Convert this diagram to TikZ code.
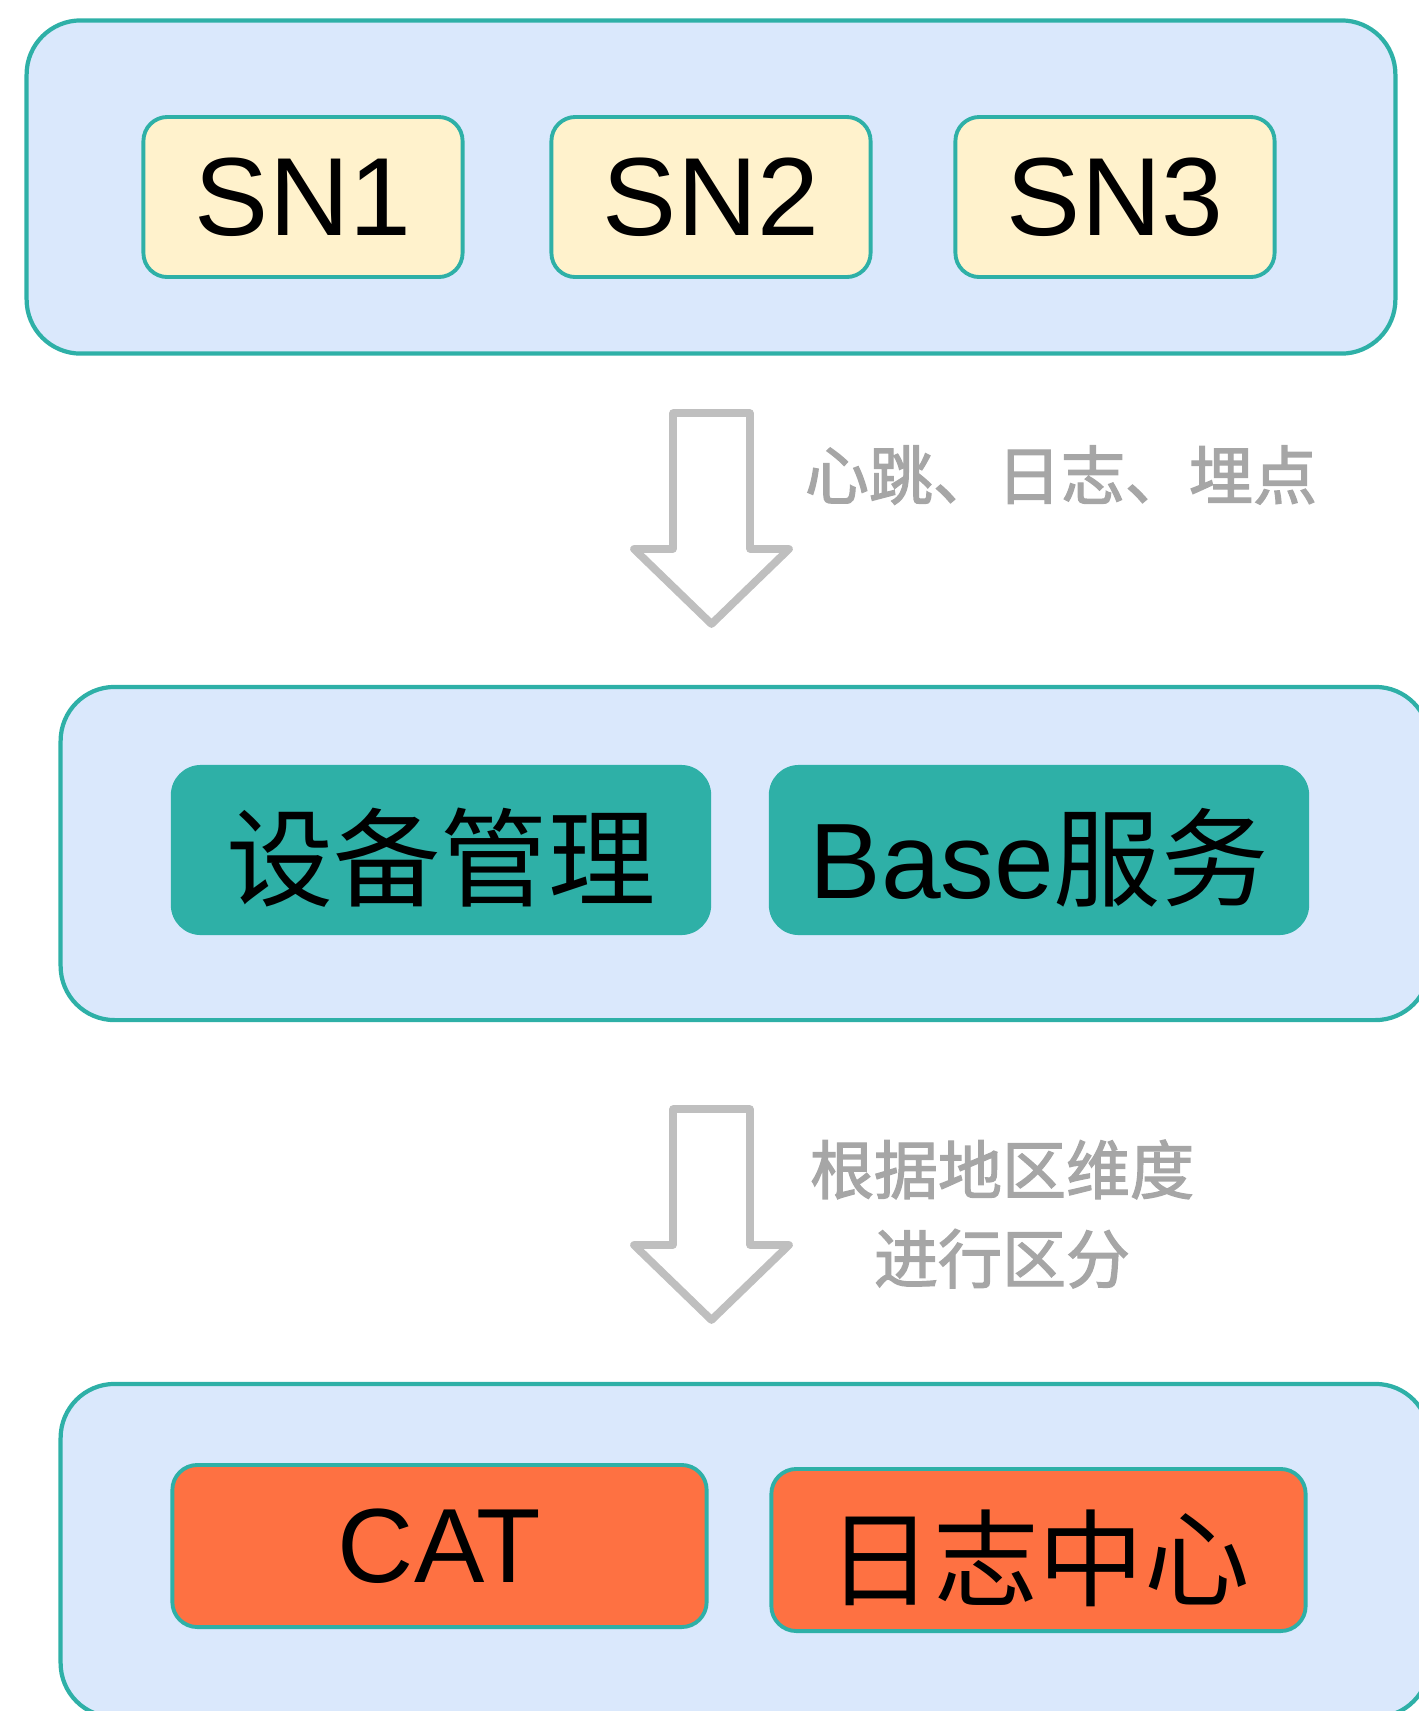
\documentclass[tikz,border=0pt]{standalone}
\usepackage{fontspec}
\setmainfont{Liberation Sans}
\newfontfamily\cjk{Noto Sans CJK SC}
\newfontfamily\cjklbl[FakeBold=2]{Noto Sans CJK SC}
\usetikzlibrary{positioning}
\definecolor{lay}{HTML}{DAE8FC}
\definecolor{edge}{HTML}{2EB0A7}
\definecolor{cream}{HTML}{FFF2CC}
\definecolor{orng}{HTML}{FE7142}
\definecolor{arrowgray}{HTML}{BFBFBF}
\definecolor{lblgray}{HTML}{A6A6A6}
\newcommand\dropcjk[1]{\raisebox{-0.08cm}[\height][\depth]{#1}}

\begin{document}
\begin{tikzpicture}[x=0.01cm,y=-0.01cm,
    layer/.style={draw=edge,fill=lay,line width=1.2pt,rounded corners=0.54cm,
        minimum width=13.68cm,minimum height=3.33cm,inner sep=0pt},
    snbox/.style={draw=edge,fill=cream,line width=1.1pt,rounded corners=0.24cm,
        minimum width=3.19cm,minimum height=1.6cm,inner sep=0pt,
        font=\fontsize{31.6pt}{36pt}\selectfont},
    svcbox/.style={fill=edge,rounded corners=0.3cm,minimum width=5.4cm,
        minimum height=1.7cm,inner sep=0pt,font=\fontsize{30.5pt}{36pt}\selectfont},
    outbox/.style={draw=edge,fill=orng,line width=1.1pt,rounded corners=0.25cm,
        minimum width=5.34cm,minimum height=1.62cm,inner sep=0pt,
        font=\fontsize{30pt}{36pt}\selectfont},
    hollow/.style={draw=arrowgray,line width=2.2pt,line join=round},
    lbl/.style={text=lblgray,inner sep=0pt,
        font=\cjklbl\fontsize{18.2pt}{25.3pt}\selectfont}]
    \path[use as bounding box,clip] (0,0) rectangle (1419,1711);
    % devices
    \node[layer] (dev) at (711,187) {};
    \foreach \x [count=\i] in {303,711,1115}
        \node[snbox] (sn\i) at (\x,197) {SN\i};
    % flow arrows
    \foreach \t/\n in {413/a1,1109/a2}
        \draw[hollow] (711.5,\t) coordinate (\n) ++(-38.5,0) -- ++(0,136)
            -- ++(-39,0) -- ++(77.5,75) -- ++(77.5,-75) -- ++(-39,0)
            -- ++(0,-136) -- cycle;
    \node[lbl] (l1) at (1061,475) {心跳、日志、埋点};
    \node[lbl,align=center] (l2) at (1002,1214) {根据地区维度\\进行区分};
    % services
    \node[layer] (svc) at (745,853.5) {};
    \node[svcbox] (mgr) at (441,850) {\dropcjk{\cjk 设备管理}};
    \node[svcbox] (base) at (1039,850) {\dropcjk{Base{\cjk 服务}}};
    % outputs
    \node[layer] (out) at (745,1550.5) {};
    \node[outbox] (cat) at (439.5,1546) {CAT};
    \node[outbox] (log) at (1038.5,1550) {\dropcjk{\cjk 日志中心}};
\end{tikzpicture}
\end{document}
